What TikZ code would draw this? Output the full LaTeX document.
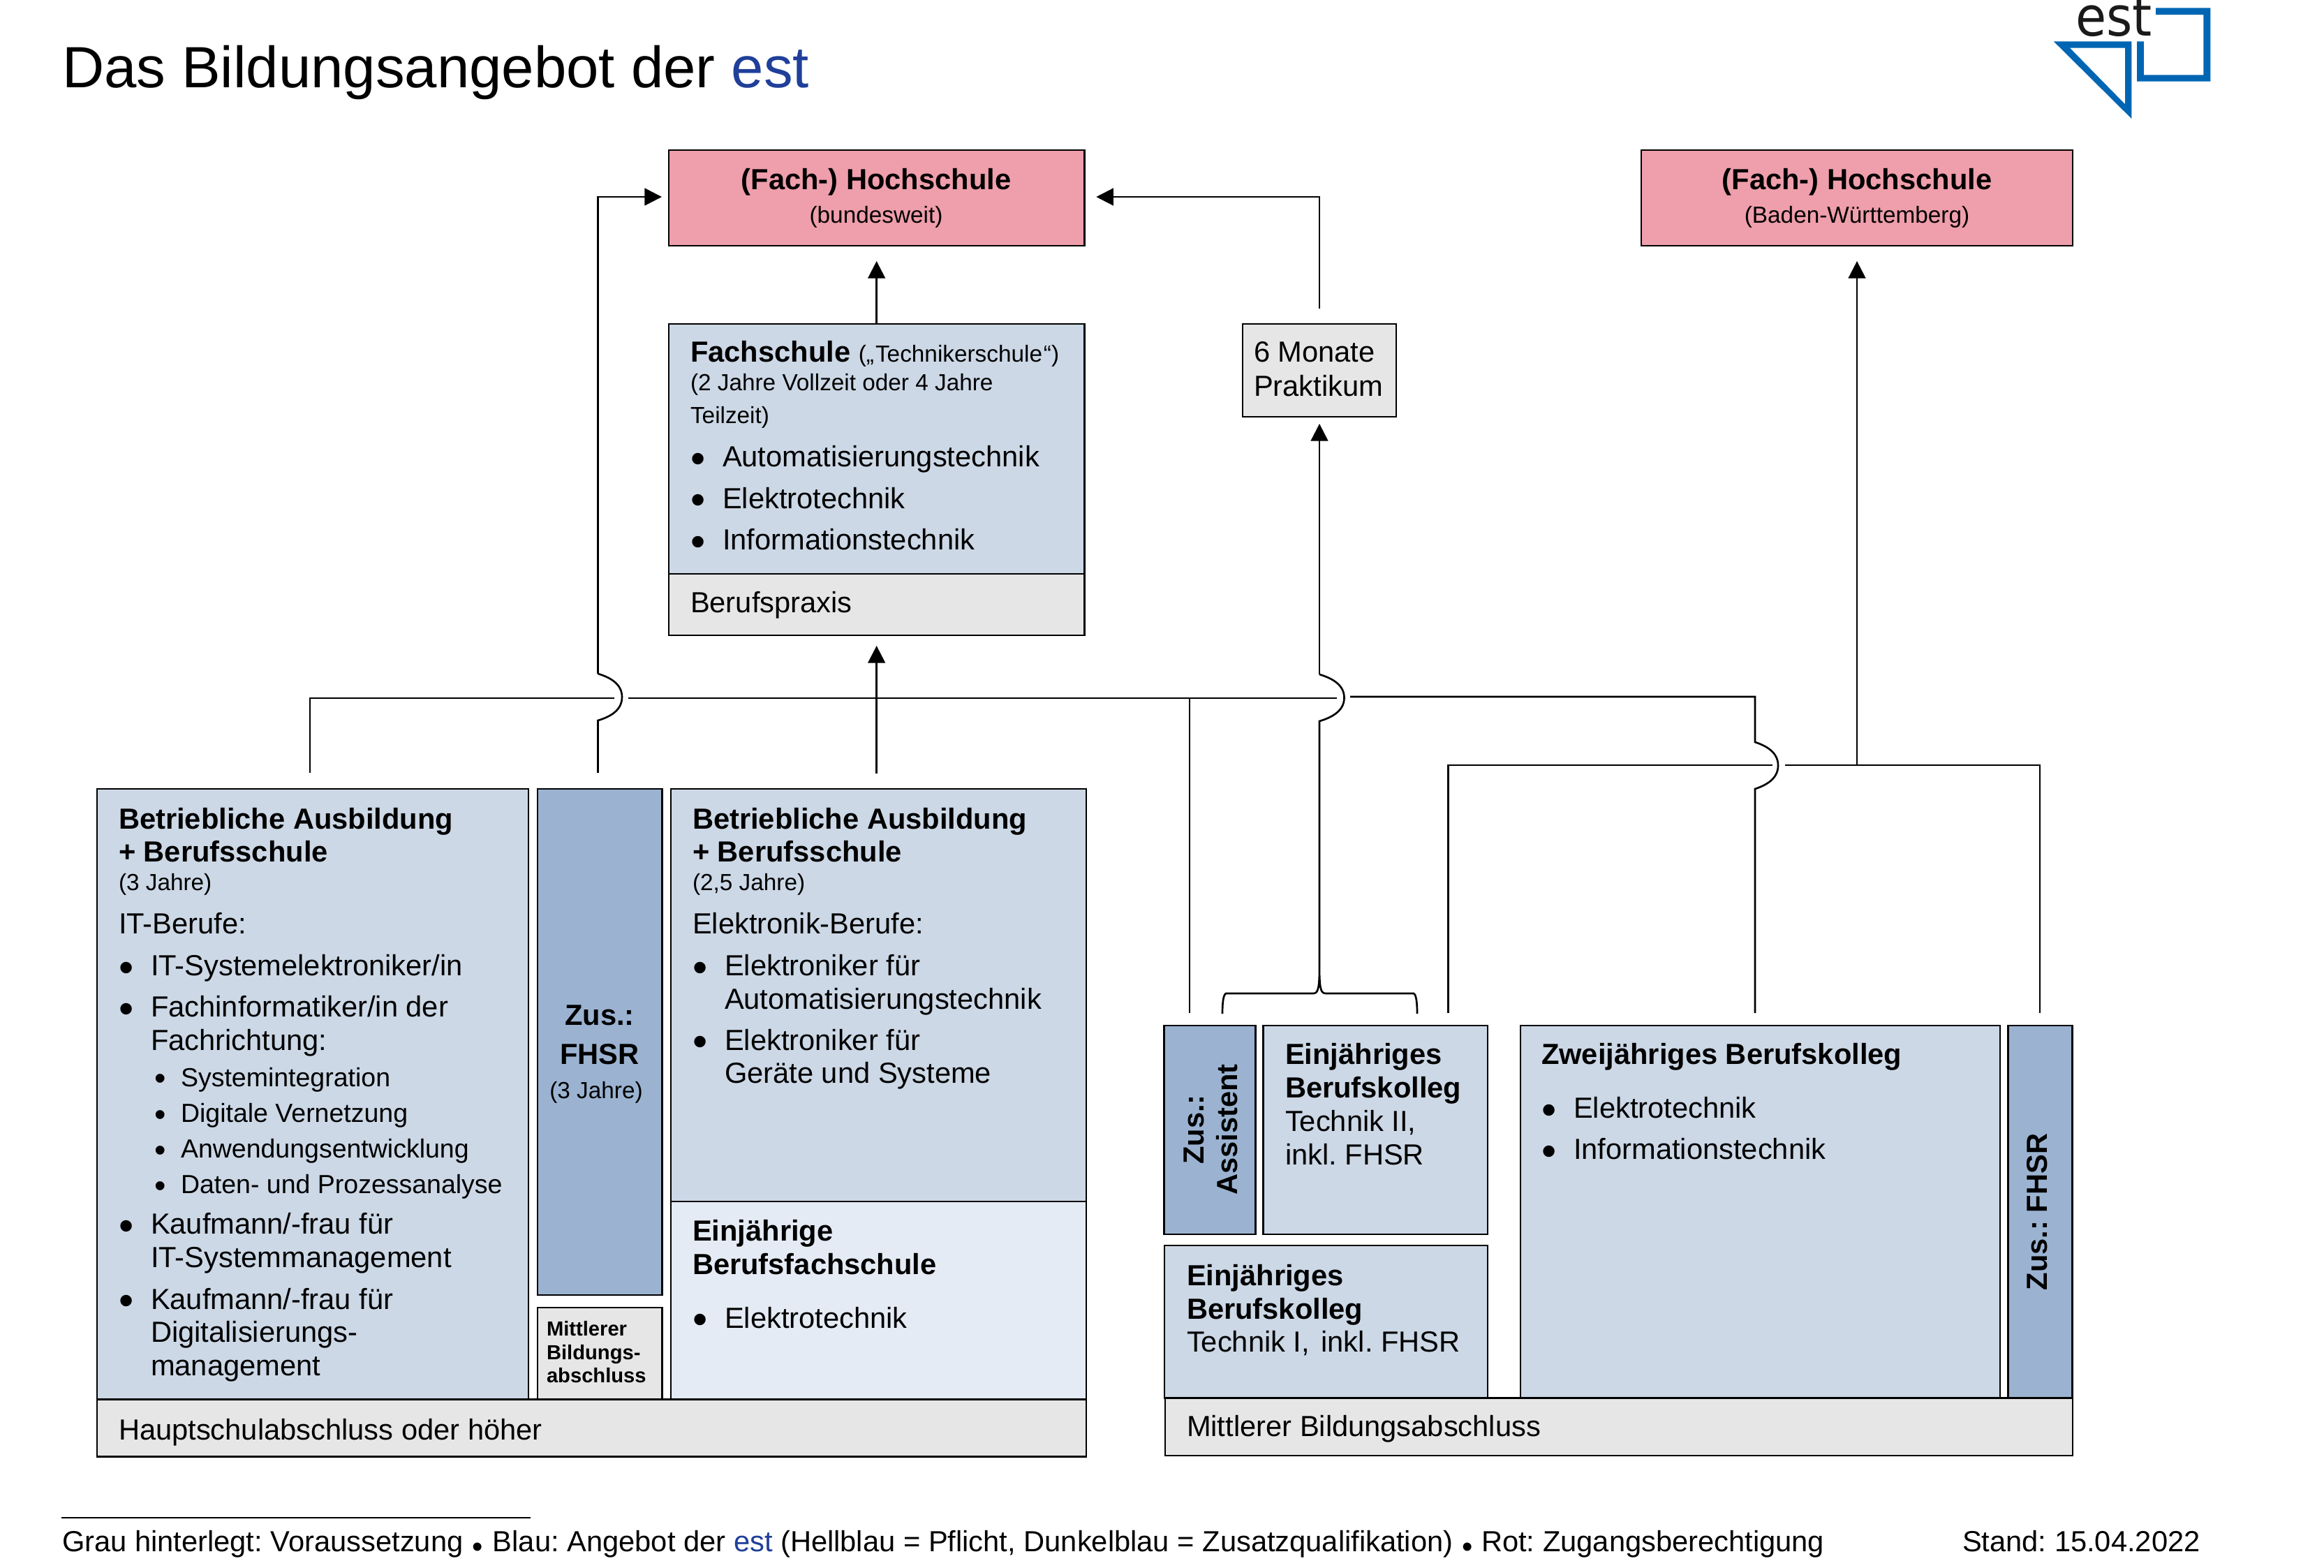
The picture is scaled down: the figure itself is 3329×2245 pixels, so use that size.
\documentclass[tikz,border=0pt]{standalone}
\usepackage{fontspec}
\setmainfont{Liberation Sans}
\newfontfamily\logofont{DejaVu Sans}
\usetikzlibrary{arrows.meta}
\definecolor{pflicht}{HTML}{CCD8E6}
\definecolor{zusatz}{HTML}{9BB3D1}
\definecolor{hell}{HTML}{E5EBF4}
\definecolor{grau}{HTML}{E6E6E6}
\definecolor{rosa}{HTML}{EF9EAB}
\definecolor{estblau}{HTML}{1F3F99}
\definecolor{logoblau}{HTML}{0066B3}
\definecolor{logotxt}{HTML}{1A1A1A}
\newdimen\pxu \pxu=0.24pt
\newcommand\fT{\fontsize{20}{24}\selectfont}
\newcommand\fA{\fontsize{10}{12}\selectfont}
\newcommand\fB{\fontsize{9}{11}\selectfont}
\newcommand\fS{\fontsize{8}{10}\selectfont}
\newcommand\fM{\fontsize{7}{8}\selectfont}
% one line whose baseline lies #1 px under the one before
\newcommand\Ln[2]{\hbox{\vrule height #1\pxu width 0pt depth 0pt\smash{#2}}}
% centred line in a width of #2 px
\newcommand\Cn[3]{\hbox to #2\pxu{\vrule height #1\pxu width 0pt depth 0pt\hss\smash{#3}\hss}}
\newcommand\Stack[1]{\vbox{\offinterlineskip #1}}
\newcommand\Bu[1]{\hbox to 46\pxu{\raisebox{-2.1pt}{\scalebox{1.45}{\textbullet}}\hss}#1}
\newcommand\Bi{\hbox to 46\pxu{\hss}}
\newcommand\Sb[1]{\hbox to 89\pxu{\hskip 51.8\pxu\fB\raisebox{-1.1pt}{\scalebox{1.25}{\textbullet}}\hss}{\fB #1}}
\newcommand\Fb{\raisebox{-2pt}{\scalebox{1.05}{\textbullet}}}
\newcommand\bxn[6]{\node[bx,#6,minimum width={(#4-#2)*0.24pt},minimum height={(#5-#3)*0.24pt}] (#1) at ({(#2+#4)/2},{(#3+#5)/2}) {};}
\tikzset{
  bx/.style={draw=black,line width=0.66pt,inner sep=0pt,outer sep=0pt,rectangle},
  txt/.style={anchor=north west,inner sep=0pt,outer sep=0pt,yshift=6.84pt,font=\fA},
  ctxt/.style={anchor=north,inner sep=0pt,outer sep=0pt,yshift=6.84pt,font=\fA},
  oneline/.style={anchor=base west,inner sep=0pt,outer sep=0pt},
  conn/.style={line width=0.64pt,black},
  arr/.style={conn,-{Triangle[length=5.9pt,width=5.9pt]}}
}
\begin{document}
\frenchspacing
\begin{tikzpicture}[x=0.24pt,y=-0.24pt]
\useasboundingbox (0,0) rectangle (3329,2245);
% title and logo
\node[oneline,font=\fT] (title) at (89,125) {Das Bildungsangebot der \textcolor{estblau}{est}};
\node[oneline,text=logotxt] (logotext) at (2973,51) {\logofont\fontsize{18.7}{20}\selectfont\scalebox{.92}[1]{est}};
\fill[logoblau,even odd rule] (2941.7,59.3) -- (3053.3,59.3) -- (3053.3,170) -- cycle (2965,68.7) -- (3044,68.7) -- (3044,149.3) -- cycle;
\fill[logoblau] (3088,11.3) -- (3166.3,11.3) -- (3166.3,116.7) -- (3061,116.7) -- (3061,59.3) -- (3070.7,59.3) -- (3070.7,107.3) -- (3156.3,107.3) -- (3156.3,21) -- (3088,21) -- cycle;
% boxes
\bxn{hsa}{958}{215}{1553.3}{352}{fill=rosa}
\bxn{hsb}{2351}{215}{2969}{352}{fill=rosa}
\bxn{fach}{958}{464}{1553.3}{822}{fill=pflicht}
\bxn{prax}{958}{822}{1553.3}{910}{fill=grau}
\bxn{prak}{1780}{464}{2000}{597}{fill=grau}
\bxn{baa}{139}{1130}{757}{2004.7}{fill=pflicht}
\bxn{zfh}{770}{1130}{948.5}{1855}{fill=zusatz}
\bxn{mbk}{770}{1873}{948.5}{2004.7}{fill=grau}
\bxn{bab}{961}{1130}{1556}{1721}{fill=pflicht}
\bxn{bfs}{961}{1721}{1556}{2004.7}{fill=hell}
\bxn{hauptg}{139}{2004.7}{1556}{2086.7}{fill=grau}
\bxn{zas}{1667.5}{1469}{1798.5}{1768}{fill=zusatz}
\bxn{bkb}{1809.5}{1469}{2131}{1768}{fill=pflicht}
\bxn{bka}{1668}{1784}{2131}{2002.7}{fill=pflicht}
\bxn{zbk}{2178}{1469}{2865}{2002.7}{fill=pflicht}
\bxn{zfr}{2876.7}{1469}{2968.5}{2002.7}{fill=zusatz}
\bxn{mittg}{1669}{2002.7}{2969}{2085}{fill=grau}
% box texts
\node[ctxt] (thsa) at (1255,270) {\Stack{\Cn{30}{590}{\bfseries (Fach-) Hochschule}\Cn{48}{590}{\fS (bundesweit)}}};
\node[ctxt] (thsb) at (2660,270) {\Stack{\Cn{30}{610}{\bfseries (Fach-) Hochschule}\Cn{48}{610}{\fS (Baden-Württemberg)}}};
\node[txt] (tfach) at (989,517) {\Stack{%
  \Ln{30}{{\bfseries Fachschule} {\fS („\kern2\pxu Technikerschule\kern2\pxu“)}}%
  \Ln{41}{\fS (2 Jahre Vollzeit oder 4 Jahre}%
  \Ln{46.5}{\fS Teilzeit)}%
  \Ln{62.5}{\Bu{Automatisierungstechnik}}%
  \Ln{59.5}{\Bu{Elektrotechnik}}%
  \Ln{59.5}{\Bu{Informationstechnik}}}};
\node[txt] (tprax) at (989,876) {\Stack{\Ln{30}{Berufspraxis}}};
\node[txt] (tprak) at (1796,517) {\Stack{\Ln{30}{6 Monate}\Ln{49}{Praktikum}}};
\node[txt] (tbaa) at (170,1185.7) {\Stack{%
  \Ln{30}{\bfseries Betriebliche Ausbildung}%
  \Ln{47.5}{\bfseries + Berufsschule}%
  \Ln{41}{\fS (3 Jahre)}%
  \Ln{62}{IT-Berufe:}%
  \Ln{60}{\Bu{IT-Systemelektroniker/in}}%
  \Ln{59}{\Bu{Fachinformatiker/in der}}%
  \Ln{47.5}{\Bi Fachrichtung:}%
  \Ln{52}{\Sb{Systemintegration}}%
  \Ln{51.5}{\Sb{Digitale Vernetzung}}%
  \Ln{51}{\Sb{Anwendungsentwicklung}}%
  \Ln{51}{\Sb{Daten- und Prozessanalyse}}%
  \Ln{58}{\Bu{Kaufmann/-frau für}}%
  \Ln{48}{\Bi IT-Systemmanagement}%
  \Ln{59.5}{\Bu{Kaufmann/-frau für}}%
  \Ln{47}{\Bi Digitalisierungs-}%
  \Ln{48}{\Bi management}}};
\node[ctxt] (tzfh) at (859,1467) {\Stack{\Cn{30}{170}{\bfseries Zus.:}\Cn{56}{170}{\bfseries FHSR}\Cn{49}{170}{\fS (3 Jahre)\kern 10\pxu}}};
\node[txt] (tmbk) at (783,1912) {\Stack{\Ln{30}{\fM\bfseries Mittlerer}\Ln{34}{\fM\bfseries Bildungs-}\Ln{33}{\fM\bfseries abschluss}}};
\node[txt] (thaupt) at (170,2061) {\Stack{\Ln{30}{Hauptschulabschluss oder höher}}};
\node[txt] (tbab) at (992,1185.7) {\Stack{%
  \Ln{30}{\bfseries Betriebliche Ausbildung}%
  \Ln{47.5}{\bfseries + Berufsschule}%
  \Ln{41}{\fS (2,5 Jahre)}%
  \Ln{62}{Elektronik-Berufe:}%
  \Ln{60}{\Bu{Elektroniker für}}%
  \Ln{47.5}{\Bi Automatisierungstechnik}%
  \Ln{59}{\Bu{Elektroniker für}}%
  \Ln{47.5}{\Bi Geräte und Systeme}}};
\node[txt] (tbfs) at (992,1776) {\Stack{%
  \Ln{30}{\bfseries Einjährige}%
  \Ln{47.5}{\bfseries Berufsfachschule}%
  \Ln{77}{\Bu{Elektrotechnik}}}};
\node[inner sep=0pt,rotate=90,font=\fA] (tzas) at (1733,1618) {\Stack{\Cn{30}{260}{\bfseries Zus.:}\Cn{48}{260}{\bfseries Assistent}}};
\node[txt] (tbkb) at (1841,1523) {\Stack{%
  \Ln{30}{\bfseries Einjähriges}%
  \Ln{48}{\bfseries Berufskolleg}%
  \Ln{48}{Technik II,}%
  \Ln{47.5}{inkl. FHSR}}};
\node[txt] (tbka) at (1700,1840) {\Stack{%
  \Ln{30}{\bfseries Einjähriges}%
  \Ln{47.5}{\bfseries Berufskolleg}%
  \Ln{47.5}{Technik I,\kern5\pxu{} inkl. FHSR}}};
\node[txt] (tzbk) at (2208,1523) {\Stack{%
  \Ln{30}{\bfseries Zweijähriges Berufskolleg}%
  \Ln{77}{\Bu{Elektrotechnik}}%
  \Ln{59}{\Bu{Informationstechnik}}}};
\node[inner sep=0pt,rotate=90,font=\fA] (tzfr) at (2917,1736) {\Stack{\Cn{30}{300}{\bfseries Zus.: FHSR}}};
\node[txt] (tmitt) at (1700,2056) {\Stack{\Ln{30}{Mittlerer Bildungsabschluss}}};
% connector points
\coordinate (sa) at (444,1107);
\coordinate (ja) at (856.5,1107);
\coordinate (jab) at (856.5,1032);
\coordinate (jat) at (856.5,965);
\coordinate (gaL) at (879.5,1000);
\coordinate (gaR) at (900,1000);
\coordinate (gbL) at (1915,1000);
\coordinate (gbR) at (1934,998);
\coordinate (jcrn) at (2514,998);
\coordinate (jct) at (2514,1063);
\coordinate (jcb) at (2514,1130);
\coordinate (sz) at (2514,1451);
\coordinate (tas) at (1704,1000);
\coordinate (sas) at (1704,1451);
\coordinate (sk) at (2074.6,1451);
\coordinate (gcL) at (2539,1096);
\coordinate (gcR) at (2557,1096);
\coordinate (sr) at (2922,1451);
\coordinate (thb) at (2660,1096);
\coordinate (jbb) at (1890,1033);
\coordinate (jbt) at (1890,966);
\coordinate (brT) at (1890,1392);
% connectors
\draw[conn] (sa) |- (gaL);
\draw[conn] (gaR) -- (gbL);
\draw[conn] (ja) -- (jab) .. controls (873,1027) and (891,1018) .. (891,998.5) .. controls (891,979) and (873,970) .. (jat);
\draw[arr,shorten >=2.4pt] (jat) |- ([yshift=0.36pt]hsa.west);
\draw[arr,shorten <=5.28pt,shorten >=3.6pt] (bab.north -| prax.south) -- (prax.south);
\draw[arr,shorten >=5.28pt] (fach.north) -- (hsa.south);
\draw[arr,shorten <=5.28pt,shorten >=4.08pt] (prak.north) |- ([yshift=0.36pt]hsa.east);
\draw[conn] (tas) -- (sas);
\draw[conn] (brT) -- (jbb) .. controls (1906.5,1028) and (1925.5,1019) .. (1925.5,999.5) .. controls (1925.5,980) and (1906.5,971) .. (jbt);
\draw[arr,shorten >=2.4pt] (jbt) -- (prak.south);
\draw[conn] (gbR) -- (jcrn) -- (jct) .. controls (2529,1068) and (2547,1077) .. (2547,1096.5) .. controls (2547,1116) and (2529,1125) .. (jcb) -- (sz);
\draw[conn] (sk) |- (gcL);
\draw[conn] (gcR) -| (sr);
\draw[arr,shorten >=5.28pt] (thb) -- (hsb.south);
\draw[conn] (1751,1452) .. controls (1751,1438) and (1752,1425) .. (1756,1423) -- (1880,1423) .. controls (1887,1423) and (1889.5,1420) .. (brT) .. controls (1890.5,1420) and (1893,1423) .. (1900,1423) -- (2025,1423) .. controls (2029,1425) and (2030,1438) .. (2030,1452);
% footer
\draw[conn] (88,2174) -- (760,2174);
\node[oneline,font=\fA] (foot) at (89,2222) {Grau hinterlegt: Voraussetzung \kern2\pxu\Fb\kern2\pxu{} Blau: Angebot der \textcolor{estblau}{est} (Hellblau = Pflicht, Dunkelblau = Zusatzqualifikation) \kern1\pxu\Fb\kern1\pxu{} Rot: Zugangsberechtigung};
\node[oneline,font=\fA] (stand) at (2811,2222) {Stand: 15.04.2022};
\end{tikzpicture}
\end{document}
